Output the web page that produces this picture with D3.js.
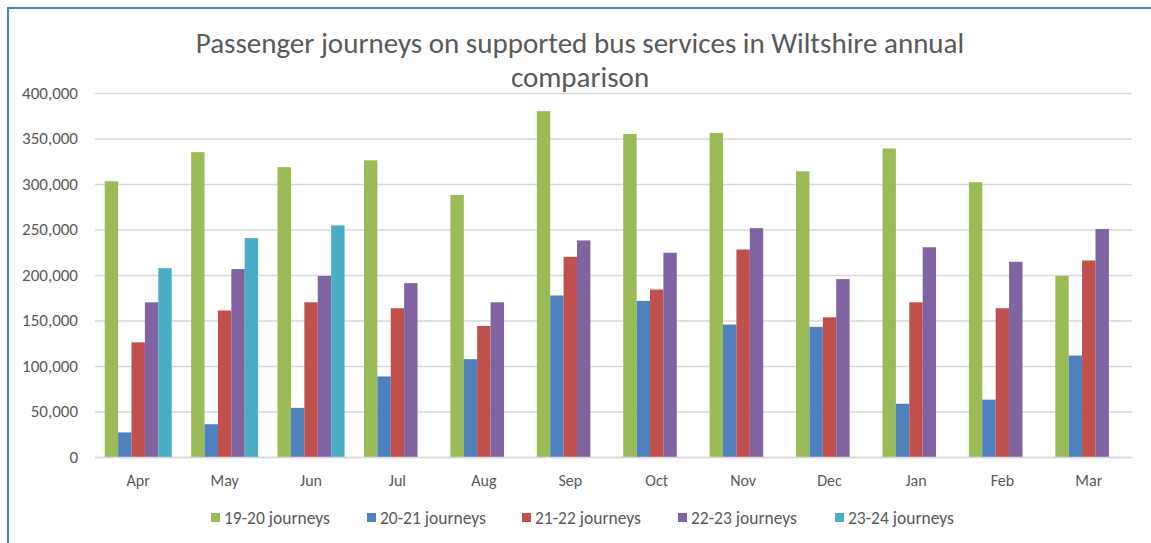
<!DOCTYPE html>
<html>
<head>
<meta charset="utf-8">
<script src="https://cdn.jsdelivr.net/npm/d3@7"></script>
<style>
  body { margin: 0; background: #fff; }
  svg text { font-family: Carlito, Calibri, "Open Sans", sans-serif; fill: #595959; }
</style>
</head>
<body>
<div id="chart"></div>
<script>
// months on the x axis
const months = ["Apr", "May", "Jun", "Jul", "Aug", "Sep", "Oct", "Nov", "Dec", "Jan", "Feb", "Mar"];
const seriesNames = ["19-20 journeys", "20-21 journeys", "21-22 journeys", "22-23 journeys", "23-24 journeys"];
const seriesColors = ["#9BBB59", "#4F81BD", "#C0504D", "#8064A2", "#4BACC6"];

// values
const journeys1920 = [303000, 335000, 318500, 326000, 288000, 380000, 355000, 356000, 314000, 339000, 302000, 199000];
const journeys2021 = [27000, 36000, 54000, 88500, 107500, 177500, 171500, 145500, 143000, 58500, 63000, 111500];
const journeys2122 = [126000, 161000, 170000, 163500, 144000, 220000, 184000, 228000, 153500, 170000, 163500, 216000];
const journeys2223 = [170000, 206500, 199000, 191000, 170000, 238000, 224500, 251500, 195500, 230500, 214500, 250500];
const journeys2324 = [207500, 240500, 254500, null, null, null, null, null, null, null, null, null];

const yTicks = [0, 50000, 100000, 150000, 200000, 250000, 300000, 350000, 400000];
const titleLines = ["Passenger journeys on supported bus services in Wiltshire annual", "comparison"];

const allSeries = [journeys1920, journeys2021, journeys2122, journeys2223, journeys2324];

const W = 1151, H = 543;
const margin = { top: 93, right: 19, bottom: 86, left: 95 };

const svg = d3.select("#chart").append("svg")
    .attr("width", W)
    .attr("height", H);

// outer frame (only top and left edges visible)
svg.append("line").attr("x1", 7).attr("x2", W).attr("y1", 8).attr("y2", 8)
    .attr("stroke", "#4F81BD").attr("stroke-width", 2);
svg.append("line").attr("x1", 8).attr("x2", 8).attr("y1", 7).attr("y2", H)
    .attr("stroke", "#4F81BD").attr("stroke-width", 2);

// title
svg.append("text")
    .attr("text-anchor", "middle")
    .style("font-size", "29px")
    .selectAll("tspan")
    .data(titleLines)
    .enter().append("tspan")
    .attr("x", 580)
    .attr("y", function(d, i) { return 53 + i * 34; })
    .text(function(d) { return d; });

let x = d3.scaleBand()
    .domain(months)
    .range([margin.left, W - margin.right])
    .paddingInner(0.225)
    .paddingOuter(0.1125);

let xInner = d3.scaleBand()
    .domain(d3.range(seriesNames.length))
    .range([0, x.bandwidth()]);

let y = d3.scaleLinear()
    .domain([0, 400000])
    .range([H - margin.bottom, margin.top]);

// gridlines
svg.append("g")
    .attr("class", "grid")
    .attr("transform", "translate(" + margin.left + ",0)")
    .call(d3.axisLeft(y).tickValues(yTicks).tickSize(-(W - margin.left - margin.right)).tickFormat(""))
    .call(function(g) {
        g.select(".domain").remove();
        g.selectAll("line").attr("stroke", "#D9D9D9").attr("stroke-width", 1.3);
    });

// y axis labels
svg.append("g")
    .attr("transform", "translate(" + margin.left + ",0)")
    .call(d3.axisLeft(y).tickValues(yTicks).tickSize(0).tickPadding(17).tickFormat(d3.format(",")))
    .call(function(g) {
        g.select(".domain").remove();
        g.selectAll("text").style("font-size", "17px").attr("fill", "#595959");
    });

// bars
let groups = svg.append("g").selectAll("g")
    .data(allSeries)
    .enter().append("g")
    .attr("fill", function(d, i) { return seriesColors[i]; });

groups.each(function(values, si) {
    d3.select(this).selectAll("rect")
        .data(values.map(function(v, mi) { return { month: months[mi], value: v }; })
            .filter(function(d) { return d.value != null; }))
        .enter().append("rect")
        .attr("x", function(d) { return x(d.month) + xInner(si); })
        .attr("width", xInner.bandwidth())
        .attr("y", function(d) { return y(d.value); })
        .attr("height", function(d) { return y(0) - y(d.value); });
});

// x axis
svg.append("g")
    .attr("transform", "translate(0," + y(0) + ")")
    .call(d3.axisBottom(x).tickSize(0).tickPadding(18))
    .call(function(g) {
        g.select(".domain").attr("stroke", "#D9D9D9").attr("stroke-width", 1.3);
        g.selectAll("text").style("font-size", "16px").attr("fill", "#595959");
    });

// legend
const legendX = [211, 367, 522, 678, 835];
let legend = svg.append("g").selectAll("g")
    .data(seriesNames)
    .enter().append("g")
    .attr("transform", function(d, i) { return "translate(" + legendX[i] + ",518)"; });

legend.append("rect")
    .attr("x", 0).attr("y", -5)
    .attr("width", 9).attr("height", 9)
    .attr("fill", function(d, i) { return seriesColors[i]; });

legend.append("text")
    .attr("x", 13)
    .attr("dy", "0.35em")
    .style("font-size", "17.5px")
    .text(function(d) { return d; });
</script>
</body>
</html>
